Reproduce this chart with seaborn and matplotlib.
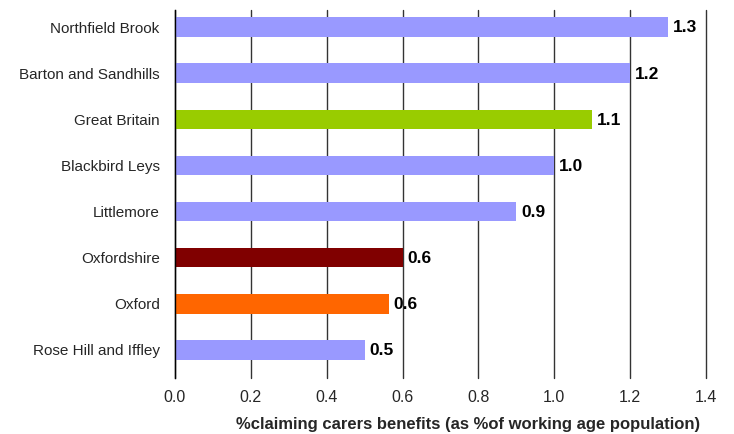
import pandas as pd
import matplotlib
matplotlib.use("Agg")
import matplotlib.pyplot as plt
import seaborn as sns

# === dati ===
areas = ["Northfield Brook", "Barton and Sandhills", "Great Britain", "Blackbird Leys",
         "Littlemore", "Oxfordshire", "Oxford", "Rose Hill and Iffley"]
values = [1.30, 1.20, 1.10, 1.00, 0.90, 0.60, 0.565, 0.50]
colors = ["#9999FF", "#9999FF", "#99CC00", "#9999FF",
          "#9999FF", "#800000", "#FF6600", "#9999FF"]

df = pd.DataFrame({"area": areas, "value": values})
palette = dict(zip(areas, colors))

sns.set_style("white")
plt.rcParams["font.family"] = ["Liberation Sans", "DejaVu Sans"]

fig = plt.figure(figsize=(7.34, 4.34), dpi=100)
ax = fig.add_axes([175 / 734, 1 - 378 / 434, 531 / 734, 368 / 434])

sns.barplot(data=df, x="value", y="area", hue="area", palette=palette,
            order=areas, legend=False, width=0.42, saturation=1,
            linewidth=0, edgecolor="none", ax=ax)

# etichette valori
for i, v in enumerate(values):
    ax.text(v + 0.012, i + 0.02, f"{v:.1f}", va="center", ha="left",
            fontsize=12.5, fontweight="bold", color="black")

ax.set_xlim(0, 1.4)
ax.set_ylim(7.607, -0.369)
ax.set_xticks([0.0, 0.2, 0.4, 0.6, 0.8, 1.0, 1.2, 1.4])
ax.set_xticklabels([f"{t:.1f}" for t in ax.get_xticks()], fontsize=11.5)
ax.tick_params(axis="y", labelsize=11, length=0, pad=11)
ax.tick_params(axis="x", length=0, pad=9)
ax.xaxis.grid(True, color="#333333", linewidth=1)
for gl in ax.get_xgridlines():
    gl.set_clip_on(False)
ax.set_axisbelow(True)
for s in ["top", "right", "bottom"]:
    ax.spines[s].set_visible(False)
ax.spines["left"].set_color("black")
ax.spines["left"].set_linewidth(1)

ax.set_ylabel("")
ax.set_xlabel("%claiming carers benefits (as %of working age population)",
              fontsize=12, fontweight="bold")
ax.xaxis.set_label_coords((468 - 175) / 531, -0.106)

fig.savefig("out.png", dpi=100)
